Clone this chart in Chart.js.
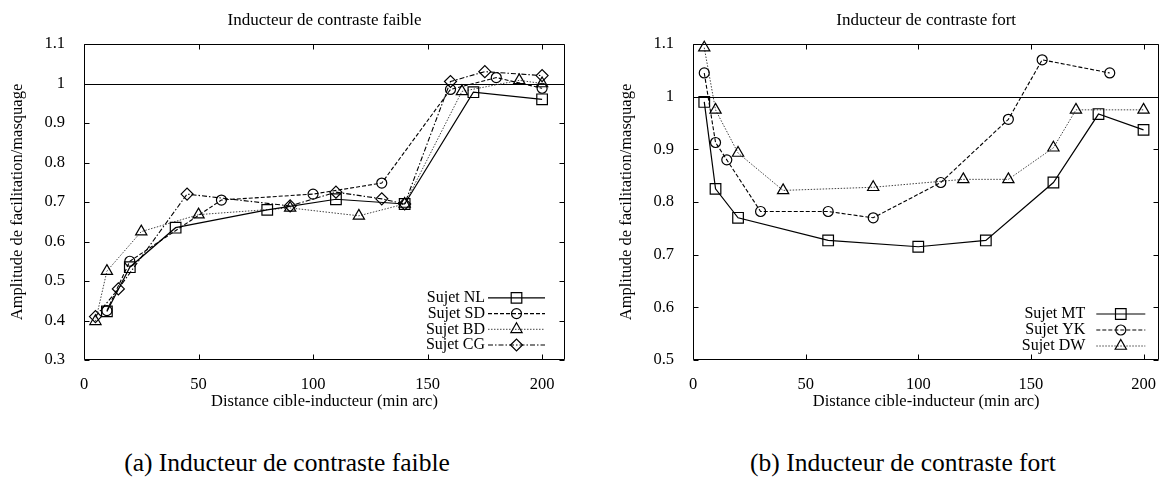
<!DOCTYPE html>
<html>
<head>
<meta charset="utf-8">
<script src="https://cdn.jsdelivr.net/npm/chart.js@4.4.1/dist/chart.umd.min.js"></script>
<style>
body { margin: 0; background: #fff; width: 1168px; height: 479px; position: relative; overflow: hidden;
       font-family: "Liberation Serif", "Times New Roman", serif; color: #000; }
#wa { position: absolute; left: 0; top: 0; width: 584px; height: 430px; }
#wb { position: absolute; left: 609px; top: 0; width: 559px; height: 430px; }
.cap { position: absolute; top: 448px; font-size: 25.5px; line-height: 30px; white-space: nowrap; transform: translateX(-50%); }
</style>
</head>
<body>
<div id="wa"><canvas id="chartA"></canvas></div>
<div id="wb"><canvas id="chartB"></canvas></div>
<div class="cap" style="left:287px">(a) Inducteur de contraste faible</div>
<div class="cap" style="left:903px">(b) Inducteur de contraste fort</div>
<script>
// tick labels
var xTicks = [0, 50, 100, 150, 200];
var yTicksA = [0.3, 0.4, 0.5, 0.6, 0.7, 0.8, 0.9, 1, 1.1];
var yTicksB = [0.5, 0.6, 0.7, 0.8, 0.9, 1, 1.1];
var refLine = 1;

// (a) faible contraste
var labelsA = ['Sujet NL', 'Sujet SD', 'Sujet BD', 'Sujet CG'];
var nlX = [10, 20, 40, 80, 110, 140, 170, 200];
var nlY = [0.423, 0.535, 0.635, 0.68, 0.707, 0.695, 0.978, 0.96];
var sdX = [10, 20, 60, 100, 130, 160, 180, 200];
var sdY = [0.425, 0.55, 0.705, 0.72, 0.748, 0.985, 1.015, 0.988];
var bdX = [5, 10, 25, 50, 90, 120, 140, 165, 190, 200];
var bdY = [0.398, 0.525, 0.625, 0.668, 0.685, 0.665, 0.695, 0.98, 1.008, 1.0];
var cgX = [5, 15, 45, 90, 110, 130, 140, 160, 175, 200];
var cgY = [0.41, 0.48, 0.72, 0.69, 0.725, 0.708, 0.695, 1.005, 1.03, 1.02];

// (b) fort contraste
var labelsB = ['Sujet MT', 'Sujet YK', 'Sujet DW'];
var mtX = [5, 10, 20, 60, 100, 130, 160, 180, 200];
var mtY = [0.99, 0.825, 0.77, 0.727, 0.715, 0.727, 0.837, 0.967, 0.937];
var ykX = [5, 10, 15, 30, 60, 80, 110, 140, 155, 185];
var ykY = [1.045, 0.913, 0.88, 0.782, 0.782, 0.77, 0.837, 0.957, 1.07, 1.045];
var dwX = [5, 10, 20, 40, 80, 120, 140, 160, 170, 200];
var dwY = [1.093, 0.975, 0.893, 0.822, 0.828, 0.843, 0.843, 0.903, 0.975, 0.975];

var serif = '"Liberation Serif", "Times New Roman", serif';

// gnuplot-like line styles
var styles = [
    { dash: [], color: '#000', width: 1.2, point: 'rect', r: 7.5 },
    { dash: [4, 2], color: '#000', width: 1.1, point: 'circle', r: 5 },
    { dash: [1.5, 1.5], color: '#444', width: 1, point: 'triangle', r: 6.5 },
    { dash: [5, 2, 1.5, 2], color: '#000', width: 1.1, point: 'rectRot', r: 6 }
];

function toPoints(xs, ys) {
    return xs.map(function (x, i) { return { x: x, y: ys[i] }; });
}

function makeDataset(label, xs, ys, st) {
    return {
        label: label,
        data: toPoints(xs, ys),
        borderColor: st.color,
        borderWidth: st.width,
        borderDash: st.dash,
        pointStyle: st.point,
        pointRadius: st.r,
        pointBorderWidth: 1.2,
        pointBorderColor: '#000',
        pointBackgroundColor: 'rgba(0,0,0,0)',
        fill: false,
        tension: 0,
        clip: false
    };
}

// box, mirrored inward ticks and the y = 1 line
var frame = {
    id: 'frame',
    beforeDatasetsDraw: function (chart) {
        var a = chart.chartArea, ctx = chart.ctx, xs = chart.scales.x, ys = chart.scales.y, t = 5;
        var L = Math.round(a.left) + 0.5, R = Math.round(a.right) - 0.5;
        var T = Math.round(a.top) + 0.5, B = Math.round(a.bottom) - 0.5;
        ctx.save();
        ctx.strokeStyle = '#000';
        ctx.lineWidth = 1;
        ctx.setLineDash([]);
        ctx.beginPath();
        xs.ticks.forEach(function (tk) {
            var px = Math.round(xs.getPixelForValue(tk.value)) + 0.5;
            ctx.moveTo(px, T); ctx.lineTo(px, T + t);
            ctx.moveTo(px, B); ctx.lineTo(px, B - t);
        });
        ys.ticks.forEach(function (tk) {
            var py = Math.round(ys.getPixelForValue(tk.value)) + 0.5;
            ctx.moveTo(L, py); ctx.lineTo(L + t, py);
            ctx.moveTo(R, py); ctx.lineTo(R - t, py);
        });
        var ry = Math.round(ys.getPixelForValue(refLine)) + 0.5;
        ctx.moveTo(L, ry); ctx.lineTo(R, ry);
        ctx.rect(L, T, R - L, B - T);
        ctx.stroke();
        ctx.restore();
    }
};

// key in the bottom right corner, text then line sample
var key = {
    id: 'key',
    afterDatasetsDraw: function (chart, args, opts) {
        var a = chart.chartArea, ctx = chart.ctx;
        var n = chart.data.datasets.length;
        ctx.save();
        ctx.font = '16px ' + serif;
        ctx.textAlign = 'right';
        ctx.textBaseline = 'middle';
        chart.data.datasets.forEach(function (ds, i) {
            var y = a.bottom - opts.bottom - (n - 1 - i) * opts.rowH;
            ctx.fillStyle = '#000';
            ctx.fillText(ds.label, a.right - opts.textRight, y);
            ctx.strokeStyle = ds.borderColor;
            ctx.lineWidth = ds.borderWidth;
            ctx.setLineDash(ds.borderDash);
            ctx.beginPath();
            ctx.moveTo(a.right - opts.x0, y);
            ctx.lineTo(a.right - opts.x1, y);
            ctx.stroke();
            ctx.setLineDash([]);
            ctx.strokeStyle = '#000';
            ctx.fillStyle = 'rgba(0,0,0,0)';
            ctx.lineWidth = 1.2;
            Chart.helpers.drawPoint(ctx, { pointStyle: ds.pointStyle, radius: ds.pointRadius, rotation: 0, borderWidth: 1.2 },
                a.right - (opts.x0 + opts.x1) / 2, y);
        });
        ctx.restore();
    }
};

function makeChart(id, title, datasets, xMax, yMin, yTicks, rightPad, keyOpts) {
    var font = { family: serif, size: 16.5, weight: 'normal' };
    return new Chart(document.getElementById(id), {
        type: 'line',
        data: { datasets: datasets },
        plugins: [frame, key],
        options: {
            responsive: true,
            maintainAspectRatio: false,
            animation: false,
            layout: { padding: { left: 0, right: rightPad, top: 0, bottom: 0 } },
            plugins: {
                legend: { display: false },
                tooltip: { enabled: false },
                title: {
                    display: true, text: title, color: '#000', fullSize: false,
                    font: { family: serif, size: 17, weight: 'normal' },
                    padding: { top: 10, bottom: 13.6 }
                },
                key: keyOpts
            },
            scales: {
                x: {
                    type: 'linear',
                    min: 0,
                    max: xMax,
                    afterBuildTicks: function (s) { s.ticks = xTicks.map(function (v) { return { value: v }; }); },
                    afterFit: function (s) { s.height = 70; },
                    grid: { display: false },
                    border: { display: false },
                    ticks: { padding: 7, color: '#000', font: font, maxRotation: 0, callback: function (v) { return String(v); } },
                    title: { display: true, text: 'Distance cible-inducteur (min arc)', color: '#000', font: font, padding: { top: 0, bottom: 18 } }
                },
                y: {
                    type: 'linear',
                    min: yMin,
                    max: 1.1,
                    afterBuildTicks: function (s) { s.ticks = yTicks.map(function (v) { return { value: v }; }); },
                    afterFit: function (s) { s.width = 84; },
                    grid: { display: false },
                    border: { display: false },
                    ticks: { padding: 11, color: '#000', font: font, callback: function (v) { return String(v); } },
                    title: { display: true, text: 'Amplitude de facilitation/masquage', color: '#000', font: font, padding: { top: 8, bottom: 0 } }
                }
            }
        }
    });
}

makeChart('chartA', 'Inducteur de contraste faible', [
    makeDataset(labelsA[0], nlX, nlY, styles[0]),
    makeDataset(labelsA[1], sdX, sdY, styles[1]),
    makeDataset(labelsA[2], bdX, bdY, styles[2]),
    makeDataset(labelsA[3], cgX, cgY, styles[3])
], 210, 0.3, yTicksA, 19, { textRight: 80, x0: 77, x1: 20, bottom: 15, rowH: 15.7 });

makeChart('chartB', 'Inducteur de contraste fort', [
    makeDataset(labelsB[0], mtX, mtY, styles[0]),
    makeDataset(labelsB[1], ykX, ykY, styles[1]),
    makeDataset(labelsB[2], dwX, dwY, styles[2])
], 207, 0.5, yTicksB, 1, { textRight: 74, x0: 63, x1: 14, bottom: 14, rowH: 16 });
</script>
</body>
</html>
